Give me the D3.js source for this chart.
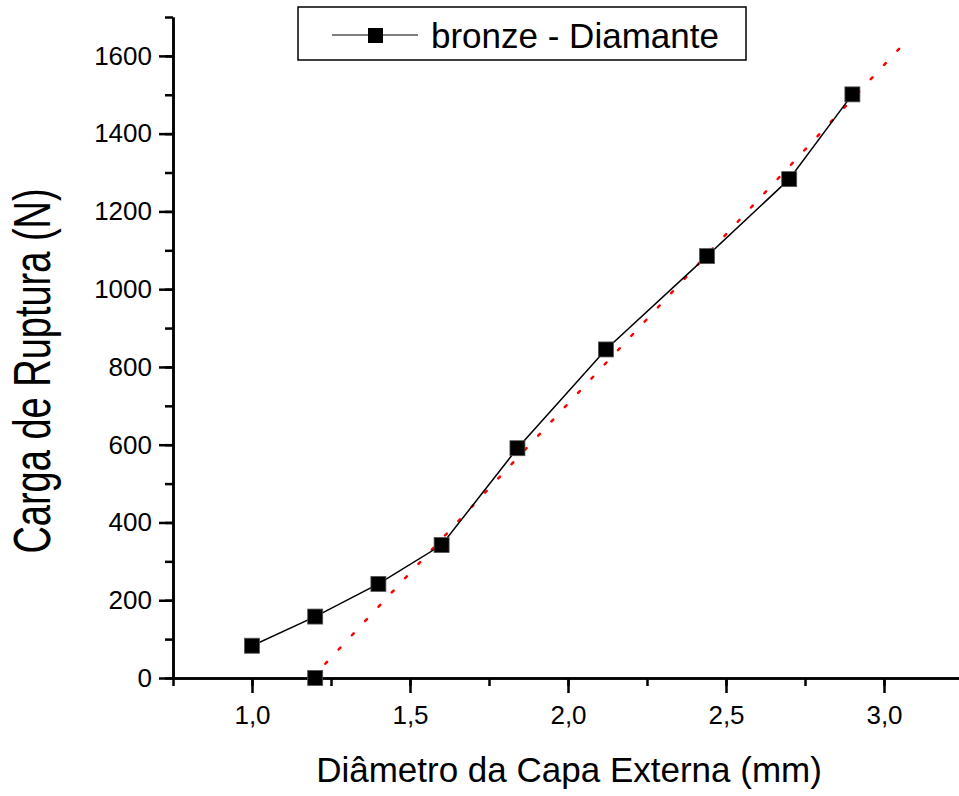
<!DOCTYPE html>
<html>
<head>
<meta charset="utf-8">
<script src="https://cdn.jsdelivr.net/npm/d3@7"></script>
<style>
  body { margin: 0; background: #fff; }
  svg { font-family: "Liberation Sans", Arial, sans-serif; }
</style>
</head>
<body>
<svg id="chart" width="959" height="796"></svg>
<script>
// measured series
const diameter = [1.0, 1.2, 1.4, 1.6, 1.84, 2.12, 2.44, 2.7, 2.9];
const load = [83, 158, 242, 342, 591, 845, 1085, 1283, 1501];
// lone point on the axis
const extraPoint = [[1.2, 0]];
// dotted red fit line endpoints
const fitX = [1.19, 3.05];
const fitY = [0, 1620];
const xTicks = [1.0, 1.5, 2.0, 2.5, 3.0];
const yTicks = [0, 200, 400, 600, 800, 1000, 1200, 1400, 1600];

const svg = d3.select("#chart");
const x = d3.scaleLinear().domain([0.75, 3.25]).range([173, 963]);
const y = d3.scaleLinear().domain([0, 1700]).range([678, 17]);

const fmt = (d) => d3.format(".1f")(d).replace(".", ",");

// x axis
svg.append("g").attr("transform", `translate(0,${y(0)})`)
  .call(d3.axisBottom(x).tickValues(xTicks).tickFormat(fmt).tickSize(15).tickPadding(13).tickSizeOuter(0));
svg.append("g").attr("transform", `translate(0,${y(0)})`)
  .call(d3.axisBottom(x).tickValues(d3.range(0.75, 3.26, 0.25)).tickFormat("").tickSize(8).tickSizeOuter(0));

// y axis
svg.append("g").attr("transform", `translate(${x(0.75)},0)`)
  .call(d3.axisLeft(y).tickValues(yTicks).tickFormat(d3.format("d")).tickSize(14).tickPadding(7).tickSizeOuter(0));
svg.append("g").attr("transform", `translate(${x(0.75)},0)`)
  .call(d3.axisLeft(y).tickValues(d3.range(0, 1701, 100)).tickFormat("").tickSize(8).tickSizeOuter(0));

svg.selectAll(".domain").attr("stroke", "#000").attr("stroke-width", 2.5);
svg.selectAll(".tick line").attr("stroke", "#000").attr("stroke-width", 2.5);
svg.selectAll(".tick text").attr("font-size", 26).attr("fill", "#000")
  .attr("font-family", "Liberation Sans, Arial, sans-serif");

// fit line
svg.append("line")
  .attr("x1", x(fitX[0])).attr("y1", y(fitY[0]))
  .attr("x2", x(fitX[1])).attr("y2", y(fitY[1]))
  .attr("stroke", "#ff0000").attr("stroke-width", 2.5)
  .attr("stroke-dasharray", "2.5,17")
  .attr("stroke-linecap", "round");

// series line
const pts = diameter.map((d, i) => [d, load[i]]);
svg.append("path")
  .datum(pts)
  .attr("fill", "none").attr("stroke", "#000").attr("stroke-width", 1.5)
  .attr("d", d3.line().x((d) => x(d[0])).y((d) => y(d[1])));

const ms = 15;
svg.selectAll("rect.pt")
  .data(pts.concat(extraPoint))
  .join("rect")
  .attr("class", "pt")
  .attr("x", (d) => x(d[0]) - ms / 2)
  .attr("y", (d) => y(d[1]) - ms / 2)
  .attr("width", ms).attr("height", ms)
  .attr("fill", "#000").attr("stroke", "#555").attr("stroke-width", 0.8);

// axis titles
svg.append("text")
  .attr("x", 569).attr("y", 782)
  .attr("text-anchor", "middle").attr("font-size", 35)
  .text("Diâmetro da Capa Externa (mm)");
svg.append("text")
  .attr("transform", `translate(50,371) rotate(-90) scale(1,1.35)`)
  .attr("text-anchor", "middle").attr("font-size", 38)
  .text("Carga de Ruptura (N)");

// legend
const lg = svg.append("g");
lg.append("rect").attr("x", 298).attr("y", 7).attr("width", 448).attr("height", 53)
  .attr("fill", "#fff").attr("stroke", "#000").attr("stroke-width", 1.5);
lg.append("line").attr("x1", 332).attr("x2", 418).attr("y1", 35).attr("y2", 35)
  .attr("stroke", "#000").attr("stroke-width", 1);
lg.append("rect").attr("x", 368).attr("y", 28).attr("width", 15).attr("height", 15).attr("fill", "#000");
lg.append("text").attr("x", 431).attr("y", 48).attr("font-size", 35).text("bronze - Diamante");
</script>
</body>
</html>
